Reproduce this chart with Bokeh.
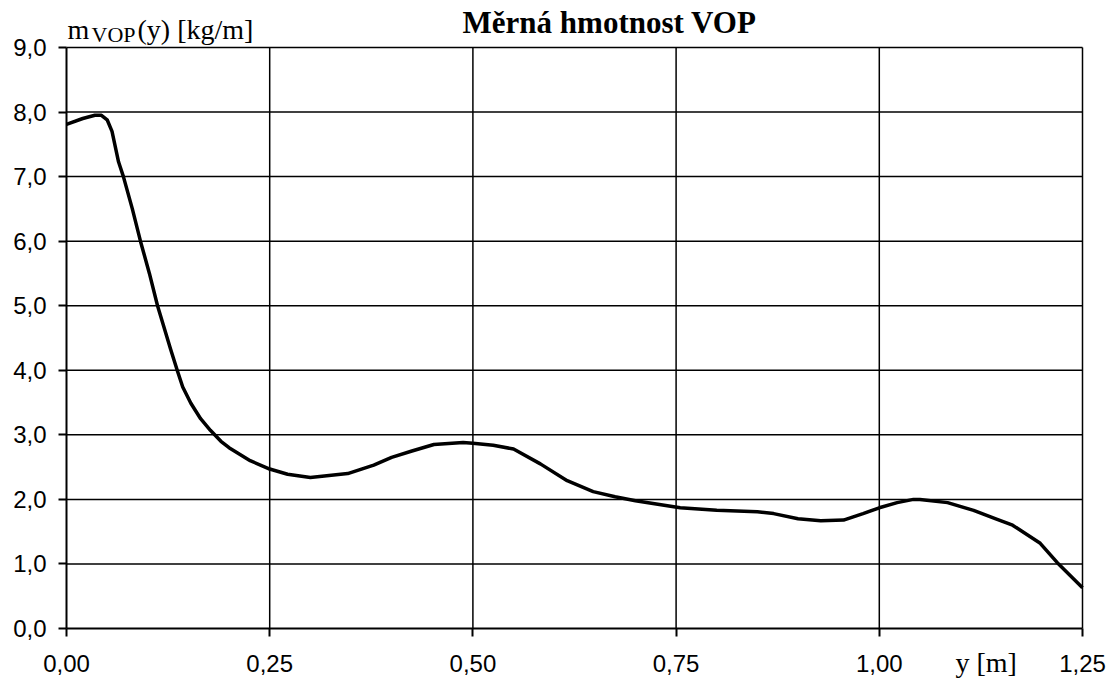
from bokeh.plotting import figure
from bokeh.models import Range1d, FixedTicker, Label
from bokeh.embed import file_html
from bokeh.resources import INLINE

# data
pos_y = [0.0, 0.02, 0.035, 0.043, 0.05, 0.056, 0.064, 0.07, 0.081, 0.091, 0.102, 0.112,
         0.128, 0.137, 0.143, 0.153, 0.165, 0.177, 0.19, 0.2, 0.226, 0.25,
         0.272, 0.3, 0.346, 0.378, 0.4, 0.425, 0.452, 0.488, 0.5, 0.525, 0.55,
         0.583, 0.616, 0.648, 0.675, 0.7, 0.755, 0.8, 0.85, 0.87, 0.9, 0.928,
         0.956, 0.98, 1.0, 1.022, 1.042, 1.05, 1.084, 1.116, 1.145, 1.164,
         1.198, 1.219, 1.25]
mass = [7.81, 7.90, 7.95, 7.95, 7.88, 7.70, 7.23, 7.0, 6.5, 6.0, 5.5, 5.0,
        4.33, 3.97, 3.74, 3.49, 3.25, 3.07, 2.9, 2.8, 2.6, 2.47,
        2.39, 2.34, 2.40, 2.53, 2.65, 2.75, 2.85, 2.88, 2.87, 2.84, 2.78,
        2.55, 2.29, 2.12, 2.04, 1.98, 1.87, 1.83, 1.81, 1.78, 1.70, 1.67,
        1.68, 1.78, 1.87, 1.95, 2.0, 2.0, 1.95, 1.83, 1.69, 1.6,
        1.32, 1.02, 0.63]

x_ticks = [0.0, 0.25, 0.5, 0.75, 1.0, 1.25]
x_tick_labels = ["0,00", "0,25", "0,50", "0,75", "1,00", "1,25"]
y_ticks = [0, 1, 2, 3, 4, 5, 6, 7, 8, 9]
y_tick_labels = ["0,0", "1,0", "2,0", "3,0", "4,0", "5,0", "6,0", "7,0", "8,0", "9,0"]

title_text = "Měrná hmotnost VOP"
ylabel_main = "m"
ylabel_sub = "VOP"
ylabel_rest = "(y) [kg/m]"
xlabel_text = "y [m]"

# layout (pixels): plot area edges inside the canvas
W, H = 1112, 678
LEFT, RIGHT, TOP, BOTTOM = 66, 1082, 47, 628
x0, x1 = x_ticks[0], x_ticks[-1]
y0, y1 = y_ticks[0], y_ticks[-1]
kx = (RIGHT - LEFT) / (x1 - x0)
ky = (BOTTOM - TOP) / (y1 - y0)
xs = x0 - LEFT / kx
ys_top = y1 + TOP / ky
ys = ys_top - H / ky

p = figure(width=W, height=H, output_backend="svg", toolbar_location=None,
           x_range=Range1d(xs, xs + W / kx), y_range=Range1d(ys, ys_top),
           min_border=0, min_border_left=0, min_border_right=0,
           min_border_top=0, min_border_bottom=0)
p.background_fill_color = "white"
p.border_fill_color = "white"
p.outline_line_color = None
p.grid.visible = False

for ax in (p.xaxis[0], p.yaxis[0]):
    ax.fixed_location = 0
    ax.axis_line_color = "black"
    ax.axis_line_width = 2
    ax.major_tick_line_color = "black"
    ax.major_tick_line_width = 2
    ax.major_tick_in = 0
    ax.major_tick_out = 8
    ax.minor_tick_line_color = None
    ax.major_label_text_font = "Liberation Sans"
    ax.major_label_text_font_size = "24px"
    ax.major_label_text_color = "black"

p.xaxis.bounds = (x0, x1)
p.xaxis.ticker = FixedTicker(ticks=x_ticks)
p.xaxis.major_label_overrides = {t: l for t, l in zip(x_ticks, x_tick_labels)}
p.xaxis.major_label_standoff = 18
p.yaxis.bounds = (y0, y1)
p.yaxis.ticker = FixedTicker(ticks=y_ticks)
p.yaxis.major_label_overrides = {t: l for t, l in zip(y_ticks, y_tick_labels)}
p.yaxis.major_label_standoff = 12

# grid lines limited to the plot area
p.segment(x0=x_ticks[1:], y0=[y0] * (len(x_ticks) - 1),
          x1=x_ticks[1:], y1=[y1] * (len(x_ticks) - 1),
          line_color="black", line_width=1.5, level="underlay")
p.segment(x0=[x0] * (len(y_ticks) - 1), y0=y_ticks[1:],
          x1=[x1] * (len(y_ticks) - 1), y1=y_ticks[1:],
          line_color="black", line_width=1.5, level="underlay")

p.line(pos_y, mass, line_color="black", line_width=3.5, line_join="round")

serif = "Liberation Serif"
p.add_layout(Label(x=x0, y=y1, x_offset=1, y_offset=18, text=ylabel_main,
                   text_font=serif, text_font_size="28px", text_color="black",
                   text_baseline="alphabetic", text_align="left"))
p.add_layout(Label(x=x0, y=y1, x_offset=25, y_offset=13, text=ylabel_sub,
                   text_font=serif, text_font_size="22px", text_color="black",
                   text_baseline="alphabetic", text_align="left"))
p.add_layout(Label(x=x0, y=y1, x_offset=71, y_offset=18, text=ylabel_rest,
                   text_font=serif, text_font_size="28px", text_color="black",
                   text_baseline="alphabetic", text_align="left"))
p.add_layout(Label(x=x0, y=y1, x_offset=543, y_offset=25, text=title_text,
                   text_font=serif, text_font_size="31px", text_font_style="bold",
                   text_color="black", text_baseline="alphabetic", text_align="center"))
p.add_layout(Label(x=x0, y=y0, x_offset=889, y_offset=-34, text=xlabel_text,
                   text_font=serif, text_font_size="28px", text_color="black",
                   text_baseline="alphabetic", text_align="left"))

open("out.html", "w").write(file_html(p, INLINE))
